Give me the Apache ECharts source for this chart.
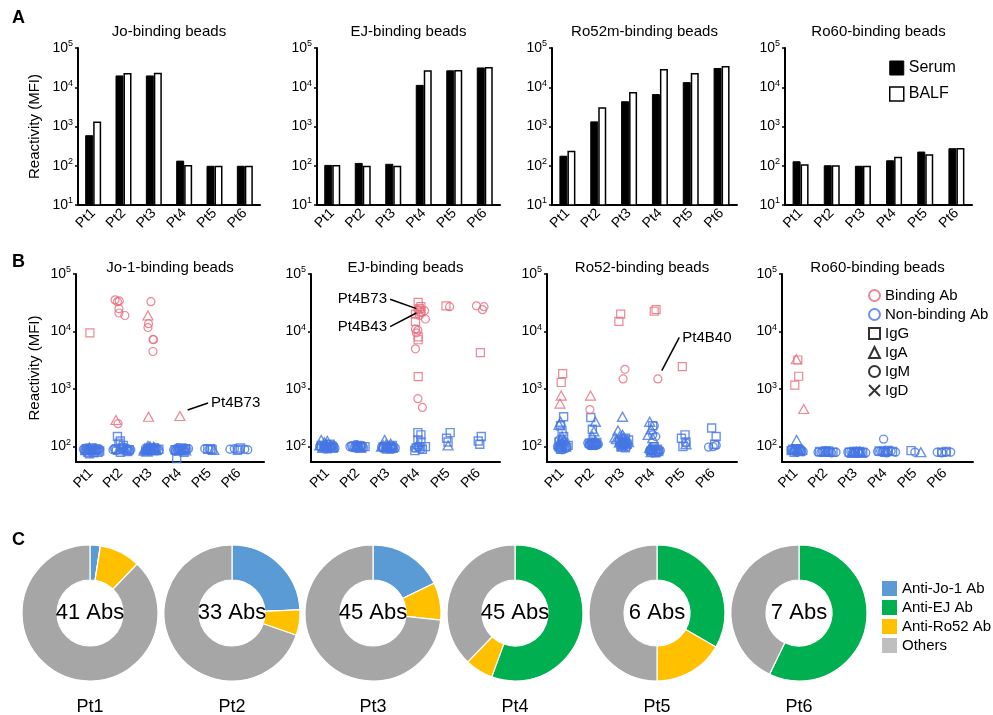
<!DOCTYPE html>
<html><head><meta charset="utf-8">
<script src="https://cdn.jsdelivr.net/npm/echarts@6/dist/echarts.min.js"></script>
<style>html,body{margin:0;padding:0;background:#fff}#c{width:993px;height:715px}</style>
</head><body><div id="c"></div><script>
// ---------- labels ----------
const patients = ['Pt1','Pt2','Pt3','Pt4','Pt5','Pt6'];
const titlesA = ['Jo-binding beads','EJ-binding beads','Ro52m-binding beads','Ro60-binding beads'];
const titlesB = ['Jo-1-binding beads','EJ-binding beads','Ro52-binding beads','Ro60-binding beads'];
const yName = 'Reactivity (MFI)';

// ---------- Panel A (MFI, Serum vs BALF) ----------
const serumJo   = [600, 20000, 20000, 135, 100, 100];
const balfJo    = [1350, 23000, 23500, 105, 100, 100];
const serumEJ   = [105, 118, 112, 11500, 27000, 32000];
const balfEJ    = [105, 100, 100, 27000, 27500, 33000];
const serumRo52 = [180, 1350, 4400, 6700, 13500, 31000];
const balfRo52  = [240, 3100, 7600, 29000, 23000, 35000];
const serumRo60 = [130, 103, 100, 138, 230, 280];
const balfRo60  = [110, 103, 100, 170, 195, 285];

// ---------- Panel B (each point: [patient number + jitter, MFI]) ----------
// Jo-1-binding beads
const joRedRect = [[0.97,9500]];
const joRedTri = [[1.85,290],[2.93,19000],[2.95,330],[4.01,340]];
const joRedCircle = [[1.82,35500],[1.9,33000],[1.96,34000],[1.95,25000],[1.95,21000],[2.15,19000],[1.92,250],
  [3.03,33000],[2.95,13700],[2.93,11700],[3.1,7300],[3.12,7200],[3.1,4500]];
const joBlueRect = [[0.8,85],[0.9,80],[1.0,90],[1.1,78],[1.2,88],[1.3,84],[1.05,95],[0.95,75],[0.85,92],[1.15,86],[1.25,80],
  [1.9,150],[2.0,125],[2.1,105],[1.85,90],[2.2,85],[2.3,88],[2.0,80],[2.05,95],[1.95,115],[2.1,92],[2.25,82],
  [3.1,88],[3.2,85],[3.3,90],[3.0,92],[3.15,96],
  [3.9,62],[4.0,90],[4.1,85],[4.2,92],[3.85,88],[3.95,84],[4.05,95],[4.15,80],
  [4.95,90],[5.05,92],[5.1,88],[6.0,90],[6.05,95],[5.95,86]];
const joBlueTri = [[0.85,88],[1.15,92],[0.95,96],[1.95,90],[2.15,95],[2.05,100],
  [2.8,85],[2.85,90],[2.9,95],[2.95,88],[3.0,100],[3.05,92],[3.1,86],[2.9,82],[3.0,90],[3.15,95],
  [2.82,92],[2.88,86],[2.98,96],[3.08,90],[3.2,88],[3.12,98],[2.93,102],
  [4.05,88],[3.9,90],[4.2,86],[5.15,88]];
const joBlueCircle = [[0.75,90],[0.85,95],[0.95,88],[1.05,85],[1.15,90],[1.25,92],[1.0,82],[0.8,84],[0.9,90],[1.1,94],[1.2,86],[1.3,90],
  [1.75,88],[1.85,85],[2.25,90],[2.3,84],[1.8,92],[2.35,88],[2.2,94],
  [2.9,88],[3.1,92],[3.2,90],[3.3,86],[3.25,92],[2.85,94],
  [3.8,88],[3.9,92],[4.0,86],[4.15,90],[4.25,88],[4.3,92],[3.85,84],[4.05,90],[4.2,94],[3.95,96],
  [4.85,92],[5.0,90],[5.7,90],[5.85,92],[6.2,90],[6.3,88]];
// EJ-binding beads
const ejRedRect = [[4.01,32000],[4.1,27000],[4.05,25000],[4.1,22000],[3.92,20000],[3.92,15000],[4.01,8100],[4.01,7200],[4.01,1650],
  [4.93,28000],[6.07,4300]];
const ejRedTri = [];
const ejRedCircle = [[4.0,24000],[4.22,23000],[4.05,19000],[4.1,21500],[4.25,16500],[3.92,11000],[4.0,10500],[3.95,9500],[3.92,5000],[4.0,680],[4.15,480],
  [5.05,27000],[5.94,28000],[6.19,27000],[6.14,24000]];
const ejBlueRect = [[0.8,105],[0.95,100],[1.1,110],[1.2,95],[1.0,92],[0.9,98],[1.15,102],
  [1.85,100],[2.0,105],[2.15,98],[2.25,100],[1.95,96],[2.1,102],
  [2.85,100],[3.0,95],[3.15,105],[2.95,98],[3.1,92],
  [4.0,175],[4.1,160],[4.05,100],[3.9,85],[4.25,100],[4.0,130],[4.1,120],[3.95,95],[4.15,90],
  [5.07,175],[4.95,140],[5.0,120],[6.1,150],[6.0,125],[6.05,110]];
const ejBlueTri = [[0.8,130],[0.9,118],[1.0,125],[1.1,105],[1.2,100],[0.85,95],[1.0,100],[0.95,110],[1.15,96],[0.75,105],
  [1.95,100],[2.1,95],[2.0,104],
  [2.9,130],[2.8,100],[2.95,110],[3.05,100],[3.15,95],[3.0,92],[2.85,105],[3.1,112],[2.95,96],[3.2,100],
  [4.0,110],[5.0,105]];
const ejBlueCircle = [[0.75,100],[0.9,105],[1.05,98],[1.15,102],[1.25,95],[1.0,110],[0.8,96],[0.95,92],[1.1,100],[1.2,104],
  [1.75,100],[1.9,98],[2.05,100],[2.2,96],[1.95,108],[1.8,104],[2.1,100],[2.0,95],[2.15,104],
  [2.8,98],[2.95,100],[3.1,96],[3.2,100],[3.25,95],[2.85,94],[3.0,104],[3.15,100],
  [3.9,95],[4.1,90],[4.0,100]];
// Ro52-binding beads
const roRedRect = [[1.02,1860],[0.97,1300],[2.94,20000],[2.88,15000],[4.11,24000],[4.05,22500],[4.98,2450]];
const roRedTri = [[0.97,770],[0.93,560],[1.94,770]];
const roRedCircle = [[1.92,440],[3.08,2200],[3.02,1500],[4.17,1500]];
const roBlueRect = [[1.05,330],[0.95,230],[1.0,180],[1.05,150],[0.9,120],[1.1,100],[1.0,95],[1.2,105],[0.95,90],[1.15,98],[1.0,110],[0.9,100],
  [1.95,320],[2.0,200],[1.9,115],[2.05,110],[2.15,118],[2.0,105],[2.1,112],
  [3.1,140],[3.2,130],[2.9,120],[3.0,105],[3.1,95],[3.05,115],[2.95,100],[3.15,110],
  [4.0,230],[4.05,100],[4.15,90],[3.95,85],[4.2,82],[4.1,78],[4.0,90],
  [5.07,160],[4.95,140],[5.1,120],[5.0,100],[5.95,210],[6.1,150],[6.05,110]];
const roBlueTri = [[0.95,270],[0.9,240],[1.0,150],[1.05,130],[0.9,110],[2.1,270],[2.05,185],[2.0,150],[2.1,125],
  [3.0,330],[2.85,190],[2.75,145],[2.9,150],[3.0,160],[3.05,140],[3.15,130],[2.95,125],[3.1,115],[3.0,100],
  [2.8,135],[2.9,118],[3.08,125],[3.2,120],[2.98,110],
  [3.9,270],[3.95,200],[3.85,160],[4.0,140],[3.9,95],[3.95,80],[5.1,110]];
const roBlueCircle = [[1.0,135],[0.9,130],[1.1,120],[0.95,110],[1.05,100],[1.15,95],[0.85,100],[1.0,88],[1.1,92],[0.95,96],[1.05,118],[0.9,90],
  [1.85,115],[1.9,110],[1.95,112],[2.0,108],[2.05,115],[2.1,110],[2.15,112],[1.95,120],[2.05,105],[2.2,110],
  [1.9,106],[2.0,118],[2.1,104],[1.95,104],[2.15,106],[2.05,112],
  [2.9,130],[3.0,125],[3.1,120],[2.95,110],[3.05,105],[3.15,100],[3.0,115],[3.1,108],
  [4.05,230],[4.0,160],[4.1,150],[4.05,100],[3.95,90],[4.0,85],[4.1,82],[4.2,88],[4.25,85],[3.9,80],[4.0,78],[4.15,80],
  [4.05,88],[3.95,84],[4.1,90],[4.2,80],[3.9,86],
  [5.1,115],[5.85,98],[6.0,100],[6.1,105]];
// Ro60-binding beads
const r6RedRect = [[1.07,3200],[1.1,1670],[0.97,1170]];
const r6RedTri = [[1.02,3300],[1.27,450]];
const r6RedCircle = [];
const r6BlueRect = [[0.85,85],[0.95,80],[1.05,88],[1.15,82],[1.0,92],[0.9,90],[1.1,86],
  [1.8,82],[1.95,80],[2.1,84],[2.25,80],[2.0,84],[2.15,80],
  [2.8,80],[2.95,82],[3.1,78],[3.25,80],[3.0,80],[3.15,82],
  [3.8,84],[3.95,82],[4.1,86],[4.25,82],[4.0,80],[4.87,85],[5.9,80],[6.05,82]];
const r6BlueTri = [[1.03,130],[0.9,90],[1.1,85],[1.2,88],[2.0,82],[2.9,78],[3.05,80],[3.15,82],[2.95,80],[3.2,78],[4.0,84],[5.2,80]];
const r6BlueCircle = [[0.85,88],[0.95,84],[1.05,80],[1.2,86],[1.25,82],[1.0,90],[1.15,92],
  [1.75,80],[1.9,82],[2.05,80],[2.2,78],[2.35,80],[1.85,79],[2.1,82],
  [2.75,80],[2.9,78],[3.0,82],[3.2,80],[3.35,78],[2.85,81],[3.1,79],
  [3.75,82],[3.9,80],[4.05,78],[4.2,84],[4.35,80],[3.85,84],[4.1,82],[3.95,135],
  [5.0,80],[5.75,80],[5.9,78],[6.05,80],[6.2,80]];

// ---------- Panel C (number of antibodies per specificity) ----------
const pieNames = ['Anti-Jo-1 Ab','Anti-EJ Ab','Anti-Ro52 Ab','Others'];
const pieJo1  = [1, 8, 8, 0, 0, 0];
const pieEJ   = [0, 0, 0, 25, 2, 4];
const pieRo52 = [4, 2, 4, 3, 1, 0];
const pieOthers = [36, 23, 33, 17, 3, 3];

// ---------- styling / layout ----------
const FONT = "'Liberation Sans', Arial, sans-serif";
const RED = '#e8697a', BLUE = '#4677e3';
const pieColors = ['#5b9bd5','#00b050','#ffc000','#a6a6a6'];
const gridA = [{left:78,width:182},{left:317,width:183},{left:552,width:185},{left:785,width:187}];
const gridB = [{left:76,width:188,min:0.5,max:6.85},{left:311,width:189,min:0.46,max:6.72},{left:547,width:190,min:0.5,max:6.79},{left:782,width:191,min:0.54,max:6.95}];
const A_TOP = 48, A_H = 157, B_TOP = 274, B_H = 188;
const pieCenters = [90,232,373,515,657,799];
const PIE_Y = 613;

function logLabel(v){
  const l = Math.log10(v), e = Math.round(l);
  if (Math.abs(l - e) > 1e-6) return '';
  return '{b|10}{s|' + e + '}';
}
const logRich = {b:{fontSize:14,lineHeight:17,color:'#000',fontFamily:FONT},s:{fontSize:9,lineHeight:10,verticalAlign:'top',color:'#000',fontFamily:FONT}};

const grids = [], xAxes = [], yAxes = [], series = [], graphics = [];
const axisLineStyle = {show:true,onZero:false,lineStyle:{color:'#000',width:2}};

gridA.forEach((g,i)=>{
  grids.push({left:g.left,top:A_TOP,width:g.width,height:A_H,containLabel:false,outerBoundsMode:'none'});
  xAxes.push({type:'category',gridIndex:i,data:patients,axisLine:axisLineStyle,axisTick:{show:false},
    axisLabel:{rotate:45,fontSize:14,color:'#000',fontFamily:FONT,margin:6,interval:0}});
  yAxes.push({type:'log',logBase:10,gridIndex:i,min:10,max:100000,splitNumber:4,
    axisLine:axisLineStyle,axisTick:{show:true,length:3,lineStyle:{color:'#000',width:1.5}},splitLine:{show:false},
    axisLabel:{formatter:logLabel,rich:logRich,margin:5},
    name:i===0?yName:'',nameLocation:'middle',nameGap:36,nameTextStyle:{fontSize:15,color:'#000',fontFamily:FONT}});
  graphics.push({type:'text',x:g.left+g.width/2,y:32,style:{text:titlesA[i],fontSize:15,fill:'#000',font:'15px '+FONT,textAlign:'center',textVerticalAlign:'middle'}});
});
const serumA = [serumJo,serumEJ,serumRo52,serumRo60], balfA = [balfJo,balfEJ,balfRo52,balfRo60];
for (let i=0;i<4;i++){
  series.push({type:'bar',name:'Serum',xAxisIndex:i,yAxisIndex:i,data:serumA[i],barWidth:8,barGap:'0%',
    itemStyle:{color:'#000',borderColor:'#000',borderWidth:1}});
  series.push({type:'bar',name:'BALF',xAxisIndex:i,yAxisIndex:i,data:balfA[i],barWidth:8,barGap:'0%',
    itemStyle:{color:'#fff',borderColor:'#000',borderWidth:1.5}});
}

gridB.forEach((g,j)=>{
  const i = j+4;
  grids.push({left:g.left,top:B_TOP,width:g.width,height:B_H,containLabel:false,outerBoundsMode:'none'});
  xAxes.push({type:'value',gridIndex:i,min:g.min,max:g.max,axisLine:axisLineStyle,axisTick:{show:false},splitLine:{show:false},
    axisLabel:{customValues:[1,2,3,4,5,6],formatter:v=>patients[Math.round(v)-1]||'',rotate:45,fontSize:14,color:'#000',fontFamily:FONT,margin:9}});
  yAxes.push({type:'log',logBase:10,gridIndex:i,min:54,max:100000,
    axisLine:axisLineStyle,axisTick:{show:true,length:3,lineStyle:{color:'#000',width:1.5}},splitLine:{show:false},
    axisLabel:{formatter:logLabel,rich:logRich,margin:5,showMinLabel:false},
    name:j===0?yName:'',nameLocation:'middle',nameGap:34,nameTextStyle:{fontSize:15,color:'#000',fontFamily:FONT}});
  graphics.push({type:'text',x:g.left+g.width/2,y:268,style:{text:titlesB[j],fontSize:15,fill:'#000',font:'15px '+FONT,textAlign:'center',textVerticalAlign:'middle'}});
});

function sc(data, gi, symbol, color, bw){
  return {type:'scatter',name:'pts',xAxisIndex:gi,yAxisIndex:gi,data:data,symbol:symbol,
    symbolSize:symbol==='triangle'?[10,9]:8,silent:true,
    itemStyle:{color:'rgba(0,0,0,0)',borderColor:color,borderWidth:bw}};
}
const bSets = [
  [joBlueRect,joBlueTri,joBlueCircle,joRedRect,joRedTri,joRedCircle],
  [ejBlueRect,ejBlueTri,ejBlueCircle,ejRedRect,ejRedTri,ejRedCircle],
  [roBlueRect,roBlueTri,roBlueCircle,roRedRect,roRedTri,roRedCircle],
  [r6BlueRect,r6BlueTri,r6BlueCircle,r6RedRect,r6RedTri,r6RedCircle]
];
const shapes = ['rect','triangle','circle'];
bSets.forEach((set,j)=>{
  set.forEach((d,k)=>{ series.push(sc(d, j+4, shapes[k%3], k<3?BLUE:RED, k<3?1.4:1.2)); });
});

// annotations (pointer lines + labels, placed in data coordinates)
function annot(gi, from, to, text, pos){
  return {type:'scatter',name:'annot',xAxisIndex:gi,yAxisIndex:gi,data:[],silent:true,
    markLine:{silent:true,symbol:['none','none'],animation:false,label:{show:false},
      lineStyle:{color:'#000',width:1.5,type:'solid'},data:[[{coord:from},{coord:to}]]},
    markPoint:{silent:true,symbol:'circle',symbolSize:0.1,animation:false,
      label:{show:true,position:pos,distance:3,formatter:text,fontSize:15,color:'#000',fontFamily:FONT},
      itemStyle:{color:'rgba(0,0,0,0)'},data:[{coord:to}]}};
}
series.push(annot(4,[4.27,434],[4.96,574],'Pt4B73','right'));
series.push(annot(5,[3.95,25000],[3.08,36500],'Pt4B73','left'));
series.push(annot(5,[3.95,21000],[3.08,12200],'Pt4B43','left'));
series.push(annot(6,[4.3,2100],[4.88,7900],'Pt4B40','right'));

// legend dummies for panel B
const legB = [
  {name:'Binding Ab',icon:'circle',c:RED},
  {name:'Non-binding Ab',icon:'circle',c:BLUE},
  {name:'IgG',icon:'rect',c:'#000'},
  {name:'IgA',icon:'triangle',c:'#000'},
  {name:'IgM',icon:'circle',c:'#000'},
  {name:'IgD',icon:'path://M0,0L10,10M10,0L0,10',c:'#000'}
];
legB.forEach(l=>series.push({type:'scatter',name:l.name,xAxisIndex:7,yAxisIndex:7,data:[],symbol:l.icon,
  itemStyle:{color:'rgba(0,0,0,0)',borderColor:l.c,borderWidth:2}}));

// Panel C pies
for (let p=0;p<6;p++){
  const vals = [pieJo1[p],pieEJ[p],pieRo52[p],pieOthers[p]];
  const total = vals.reduce((a,b)=>a+b,0);
  series.push({type:'pie',name:patients[p],center:[pieCenters[p],PIE_Y],radius:[33,68],startAngle:90,clockwise:true,
    silent:true,avoidLabelOverlap:false,minAngle:0,
    itemStyle:{borderColor:'#fff',borderWidth:1.2},
    label:{show:false},labelLine:{show:false},
    data:vals.map((v,k)=>({name:pieNames[k],value:v,itemStyle:{color:pieColors[k]},
      label:k===0?{show:true,position:'center',formatter:total+' Abs',fontSize:22,color:'#000',fontFamily:FONT}:{show:false}}))});
  graphics.push({type:'text',x:pieCenters[p],y:707,style:{text:patients[p],font:'18px '+FONT,fill:'#000',textAlign:'center',textVerticalAlign:'middle'}});
}

// panel letters
[['A',18],['B',262],['C',540]].forEach(([t,y])=>graphics.push({type:'text',x:12,y:y,style:{text:t,font:'bold 18px '+FONT,fill:'#000',textAlign:'left',textVerticalAlign:'middle'}}));

const option = {
  animation:false,
  backgroundColor:'#fff',
  textStyle:{fontFamily:FONT},
  grid:grids, xAxis:xAxes, yAxis:yAxes, series:series, graphic:graphics,
  legend:[
    {orient:'vertical',left:884,top:55,itemWidth:14,itemHeight:14,itemGap:10,selectedMode:false,
      textStyle:{fontSize:16,color:'#000',fontFamily:FONT},
      data:[{name:'Serum',icon:'rect',itemStyle:{color:'#000',borderColor:'#000',borderWidth:1}},
            {name:'BALF',icon:'rect',itemStyle:{color:'#fff',borderColor:'#000',borderWidth:1.5}}]},
    {orient:'vertical',left:863,top:283,itemWidth:11,itemHeight:11,itemGap:4,selectedMode:false,
      textStyle:{fontSize:15,color:'#000',fontFamily:FONT},
      data:legB.map(l=>({name:l.name,icon:l.icon,itemStyle:{color:'rgba(0,0,0,0)',borderColor:l.c,borderWidth:2}}))},
    {orient:'vertical',left:877,top:576,itemWidth:15,itemHeight:15,itemGap:4,selectedMode:false,
      textStyle:{fontSize:15,color:'#000',fontFamily:FONT},
      data:pieNames.map((n,k)=>({name:n,icon:'rect',itemStyle:{color:k===3?'#bfbfbf':pieColors[k],borderWidth:0}}))}
  ]
};
const chart = echarts.init(document.getElementById('c'),null,{renderer:'canvas'});
chart.setOption(option);
</script></body></html>
